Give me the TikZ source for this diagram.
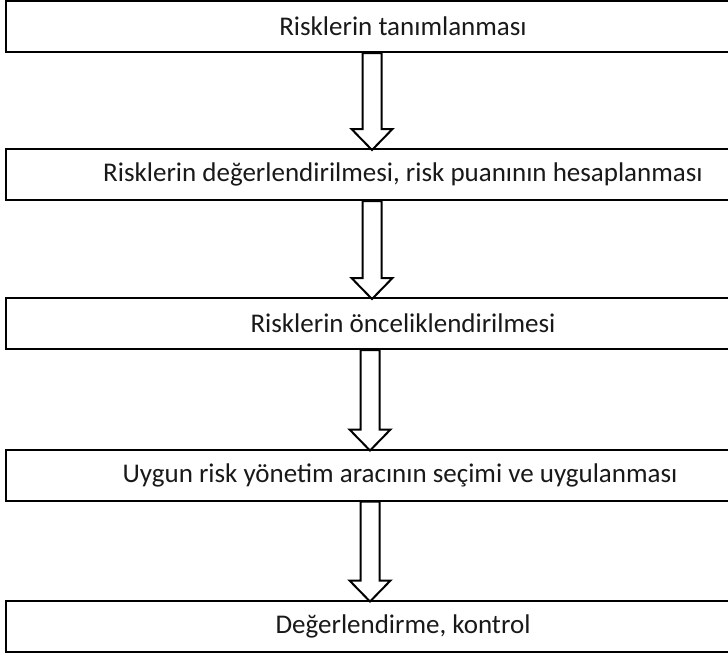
\documentclass[tikz,border=0pt]{standalone}
\usepackage{fontspec}
\setmainfont{Carlito}
\usetikzlibrary{calc}
\begin{document}
\begin{tikzpicture}[x=1pt,y=-1pt]
\tikzset{
  stepbox/.style={draw=black, line width=2pt, minimum width=794pt, minimum height=51pt,
    inner sep=0pt, font=\fontsize{27pt}{32pt}\selectfont, text=black!90},
  blockarr/.style={draw=black, line width=2pt, line join=miter}
}
\useasboundingbox (0,0) rectangle (728,657);
\clip (0,0) rectangle (728,657);
\fill[white] (0,0) rectangle (728,657);
\node[stepbox] (b1) at (403,26.5) {Risklerin tanımlanması};
\node[stepbox] (b2) at (403,174.5) {Risklerin değerlendirilmesi, risk puanının hesaplanması};
\node[stepbox] (b3) at (403,323.5) {Risklerin önceliklendirilmesi};
\node[stepbox] (b4) at (403,475) {\hspace*{-6pt}Uygun risk yönetim aracının seçimi ve uygulanması};
\node[stepbox] (b5) at (403,626) {Değerlendirme, kontrol};
\foreach \a/\b/\s in {b1/b2/-31, b2/b3/-31, b3/b4/-33, b4/b5/-33}{
  \draw[blockarr]
    ([xshift=\s pt-9.5pt]\a.south) --
    ([xshift=\s pt-9.5pt,yshift=19pt]\b.north) --
    ([xshift=\s pt-20.5pt,yshift=19pt]\b.north) --
    ([xshift=\s pt,yshift=-2pt]\b.north) --
    ([xshift=\s pt+20.5pt,yshift=19pt]\b.north) --
    ([xshift=\s pt+9.5pt,yshift=19pt]\b.north) --
    ([xshift=\s pt+9.5pt]\a.south) -- cycle;
}
\end{tikzpicture}
\end{document}
